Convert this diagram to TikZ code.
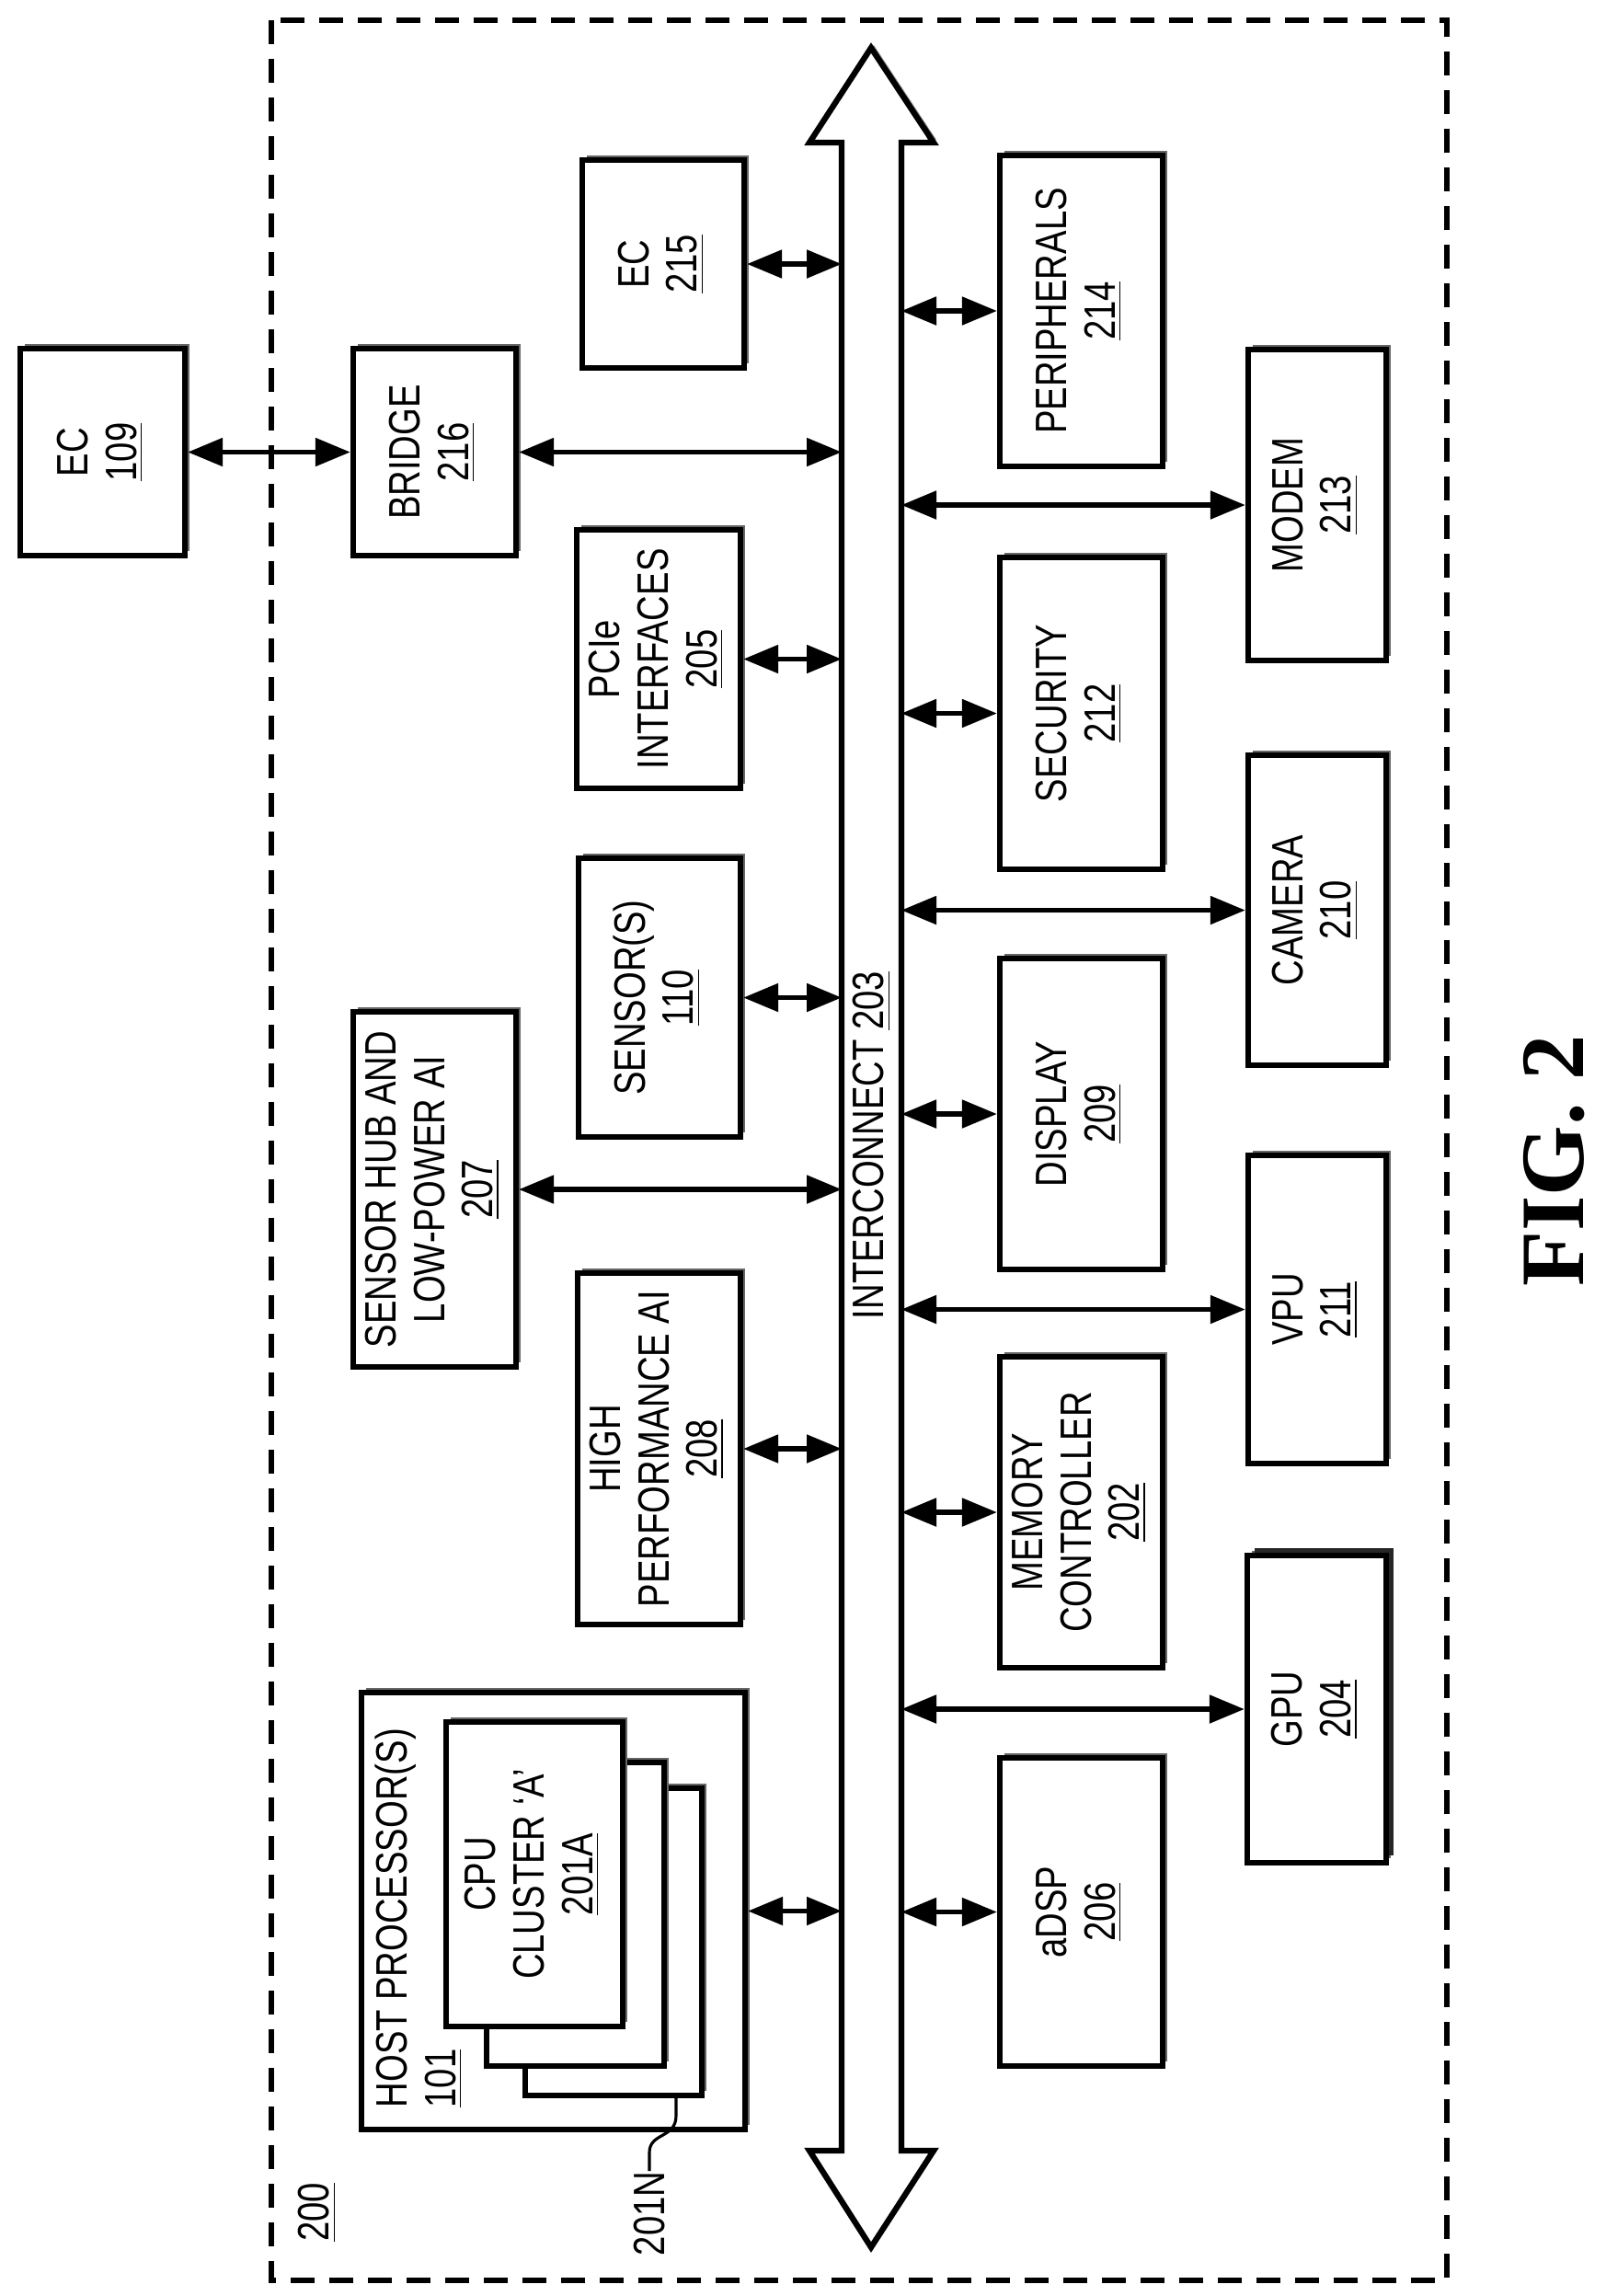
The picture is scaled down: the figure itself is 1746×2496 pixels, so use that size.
\documentclass[tikz,border=0pt]{standalone}
\usepackage{fontspec}
\usepackage{graphicx}
\setmainfont{Liberation Sans}[FakeStretch=0.8]
\newfontfamily\figfont{Liberation Serif}
\usetikzlibrary{shadows,arrows.meta}

% rotated block label
\newcommand{\vtxt}[1]{\rotatebox{90}{\begin{tabular}{@{}c@{}}#1\end{tabular}}}
\newcommand{\ul}[1]{\underline{#1}}

\tikzset{
  blk/.style={draw, line width=1.8pt, fill=white, inner sep=0pt,
    general shadow={shadow xshift=0.5mm, shadow yshift=0.5mm, fill=black!60}},
  bigblk/.style={blk, general shadow={shadow xshift=0.8mm, shadow yshift=0.8mm, fill=black!85}},
  link/.style={line width=1.5pt, {Triangle[length=3.8mm,width=3mm]}-{Triangle[length=3.8mm,width=3mm]}},
}

\begin{document}
\begin{tikzpicture}[x=0.1mm, y=-0.1mm, font=\fontsize{13.6}{15}\selectfont]
  \useasboundingbox (0,0) rectangle (1746,2496);

  % outer boundary
  \draw[line width=1.5pt, dash pattern=on 2.6mm off 1.6mm] (295,22) rectangle (1573,2479);
  \node (n200) at (345,2405) {\rotatebox{90}{\ul{200}}};

  % interconnect
  \coordinate (busL) at (915,0);
  \coordinate (busR) at (980,0);
  \draw[line width=1.8pt, fill=white, general shadow={shadow xshift=0.3mm, shadow yshift=0.3mm, fill=black!45}]
    (915,2338) -- (915,155) -- (880,155) -- (947,52) -- (1015,155) -- (980,155)
    -- (980,2338) -- (1015,2338) -- (947,2443) -- (880,2338) -- cycle;
  \node (bus) at (948,1245) {\rotatebox{90}{INTERCONNECT \ul{203}}};

  % blocks left of the interconnect
  \node[blk, minimum width=17.9mm, minimum height=22.5mm] (ec109) at (111.5,491.5) {\vtxt{EC\\\ul{109}}};
  \node[blk, minimum width=17.7mm, minimum height=22.5mm] (bridge) at (472.5,491.5) {\vtxt{BRIDGE\\\ul{216}}};
  \node[blk, minimum width=17.6mm, minimum height=22.6mm] (ec215) at (721,287) {\vtxt{EC\\\ul{215}}};
  \node[blk, minimum width=17.8mm, minimum height=28.1mm] (pcie) at (716,716.5) {\vtxt{PCIe\\INTERFACES\\\ul{205}}};
  \node[blk, minimum width=17.6mm, minimum height=30.3mm] (sens) at (717,1084.5) {\vtxt{SENSOR(S)\\\ul{110}}};
  \node[blk, minimum width=17.7mm, minimum height=38.6mm] (hub) at (472.5,1293) {\vtxt{SENSOR HUB AND\\LOW-POWER AI\\\ul{207}}};
  \node[blk, minimum width=17.7mm, minimum height=38.2mm] (hpai) at (716.5,1575) {\vtxt{HIGH\\PERFORMANCE AI\\\ul{208}}};

  % host processor with clusters
  \node[blk, minimum width=41.7mm, minimum height=47.5mm] (host) at (601.5,2077.5) {};
  \node[rotate=90, anchor=north west, align=left, inner sep=0pt] (hostlbl) at (407,2292) {HOST PROCESSOR(S)\\\ul{101}};
  \node[blk, minimum width=19.2mm, minimum height=33.4mm] (cpuN) at (667,2111) {};
  \node[blk, minimum width=19.3mm, minimum height=33.0mm] (cpuB) at (625.5,2081) {};
  \node[blk, minimum width=19.2mm, minimum height=33.1mm] (cpuA) at (581,2037.5) {\vtxt{CPU\\CLUSTER `A'\\\ul{201A}}};
  \node[rotate=90, anchor=east, inner sep=0pt] (n201N) at (706,2360) {201N};
  \draw[line width=0.9pt] (cpuN.south -| 735,0) -- (735,2300)
    .. controls (735,2325) and (706,2318) .. (706,2340) -- (n201N.east);

  % blocks right of the interconnect
  \node[blk, minimum width=17.7mm, minimum height=33.8mm] (periph) at (1175.5,338) {\vtxt{PERIPHERALS\\\ul{214}}};
  \node[blk, minimum width=17.7mm, minimum height=33.9mm] (secur) at (1175.5,775.5) {\vtxt{SECURITY\\\ul{212}}};
  \node[blk, minimum width=17.7mm, minimum height=33.8mm] (disp) at (1175.5,1211) {\vtxt{DISPLAY\\\ul{209}}};
  \node[blk, minimum width=17.7mm, minimum height=33.8mm] (memc) at (1175.5,1644) {\vtxt{MEMORY\\CONTROLLER\\\ul{202}}};
  \node[blk, minimum width=17.7mm, minimum height=33.5mm] (adsp) at (1175.5,2078.5) {\vtxt{aDSP\\\ul{206}}};
  \node[blk, minimum width=15.0mm, minimum height=33.8mm] (modem) at (1432,549) {\vtxt{MODEM\\\ul{213}}};
  \node[blk, minimum width=15.0mm, minimum height=33.7mm] (cam) at (1432,989.5) {\vtxt{CAMERA\\\ul{210}}};
  \node[blk, minimum width=15.0mm, minimum height=33.5mm] (vpu) at (1432,1423.5) {\vtxt{VPU\\\ul{211}}};
  \node[bigblk, minimum width=15.1mm, minimum height=33.4mm] (gpu) at (1431.5,1858) {\vtxt{GPU\\\ul{204}}};

  \node (fig) at (1690,1262) {\rotatebox{90}{\figfont\bfseries\fontsize{28}{32}\selectfont FIG. 2}};

  % connections
  \draw[link] (ec109) -- (bridge);
  \foreach \b in {bridge,ec215,pcie,sens,hub,hpai,host}
    \draw[link] (\b.east) -- (busL |- \b);
  \foreach \b in {periph,secur,disp,memc,adsp,modem,cam,vpu,gpu}
    \draw[link] (busR |- \b) -- (\b.west);
\end{tikzpicture}
\end{document}
